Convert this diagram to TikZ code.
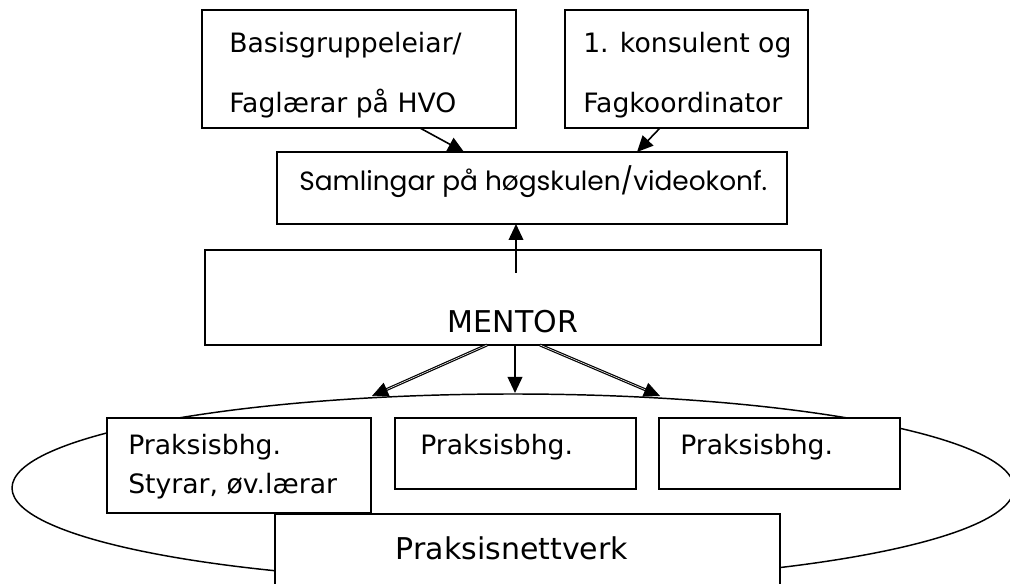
\documentclass[tikz,border=0pt]{standalone}
\usepackage{fontspec}
\setmainfont{DejaVu Sans}
\newfontfamily\geo{Poppins}
\usetikzlibrary{arrows.meta,fit,shapes.geometric}
\begin{document}
\begin{tikzpicture}[x=0.75pt,y=-0.75pt,
  box/.style={draw, line width=1.3pt, fill=white, inner sep=0pt},
  lbl/.style={anchor=base west, inner sep=0pt, font=\fontsize{20}{24}\selectfont},
  big/.style={anchor=base, inner sep=0pt, font=\fontsize{22.5}{26}\selectfont},
  arr/.style={line width=1.2pt, -{Triangle[length=12pt,width=11pt]}},
  darr/.style={line width=0.9pt, double, double distance=0.4pt, -{Triangle[length=12pt,width=11pt,line width=0.5pt]}}]
\useasboundingbox (0,0) rectangle (1010,584);
% ellipse of the network
\node[draw, ellipse, line width=1.1pt, inner sep=0pt, minimum width=751.5pt, minimum height=141pt] (net) at (513,488) {};
% boxes
\node[box, fit={(202,10)(516,128)}] (b1) {};
\node[box, fit={(565,10)(808,128)}] (b2) {};
\node[box, fit={(277,152)(787,224)}] (sam) {};
\node[box, fit={(205,250)(821,345)}] (mentor) {};
\node[box, fit={(107,418)(371,513)}] (p1) {};
\node[box, fit={(395,418)(636,489)}] (p2) {};
\node[box, fit={(659,418)(900,489)}] (p3) {};
\node[box, fit={(275,514)(780,600)}] (pn) {};
% texts
\node[lbl] (t1a) at (229,53) {Basisgruppeleiar/};
\node[lbl] (t1b) at (229,113) {Faglærar på HVO};
\node[lbl] (t2a) at (583,53) {1. konsulent og};
\node[lbl] (t2b) at (583,113) {Fagkoordinator};
\node[anchor=base west, inner sep=0pt, font=\geo\fontsize{19.8}{23}\selectfont] (t3) at (299,191) {Samlingar på høgskulen/videokonf.};
\node[big] (t4) at (513,333) {MENTOR};
\node[lbl] (t5a) at (128,455) {Praksisbhg.};
\node[lbl] (t5b) at (128,493) {Styrar, øv.lærar};
\node[lbl] (t6) at (420,455) {Praksisbhg.};
\node[lbl] (t7) at (680,455) {Praksisbhg.};
\node[big] (t8) at (512,559) {Praksisnettverk};
% connector end points
\coordinate (c1s) at (420,128); \coordinate (c1e) at (464,152);
\coordinate (c2s) at (660,128); \coordinate (c2e) at (637,152);
\coordinate (c3s) at (516,273); \coordinate (c3e) at (516,224);
\coordinate (m1) at (487,345); \coordinate (e1) at (372,396);
\coordinate (m2) at (515,345); \coordinate (e2) at (515,393);
\coordinate (m3) at (540,345); \coordinate (e3) at (660,396);
\draw[arr] (c1s) -- (c1e);
\draw[arr] (c2s) -- (c2e);
\draw[arr] (c3s) -- (c3e);
\draw[darr] (m1) -- (e1);
\draw[arr] (m2) -- (e2);
\draw[darr] (m3) -- (e3);
\end{tikzpicture}
\end{document}
